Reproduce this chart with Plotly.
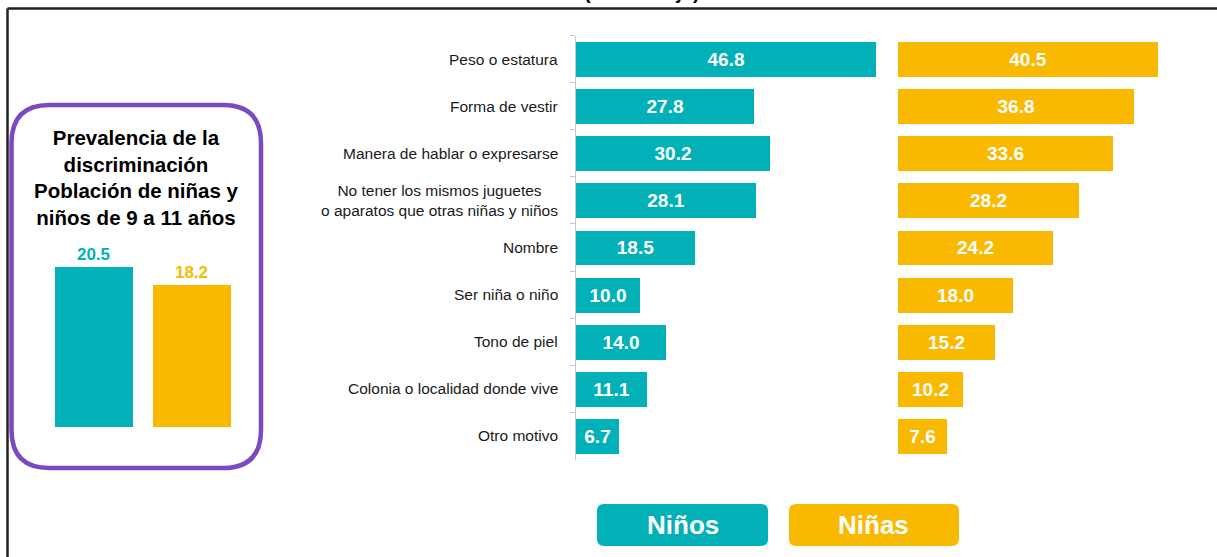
import plotly.graph_objects as go

# ---------------- data ----------------
categories = [
    "Peso o estatura",
    "Forma de vestir",
    "Manera de hablar o expresarse",
    "No tener los mismos juguetes<br>o aparatos que otras niñas y niños",
    "Nombre",
    "Ser niña o niño",
    "Tono de piel",
    "Colonia o localidad donde vive",
    "Otro motivo",
]
ninos = [46.8, 27.8, 30.2, 28.1, 18.5, 10.0, 14.0, 11.1, 6.7]
ninas = [40.5, 36.8, 33.6, 28.2, 24.2, 18.0, 15.2, 10.2, 7.6]

prev_groups = ["Niños", "Niñas"]
prev_values = [20.5, 18.2]

series_names = ["Niños", "Niñas"]
box_title = "Prevalencia de la<br>discriminación<br>Población de niñas y<br>niños de 9 a 11 años"
subtitle = "(Porcentaje)"

# ---------------- style ----------------
W, H = 1217, 557
TEAL = "#01B1B7"
YELLOW = "#F9B900"
PURPLE = "#7A4AC1"
ARIAL = "Liberation Sans, Arial, sans-serif"


def px_x(x):
    return x / W


def px_y(y):
    return 1 - y / H


def rounded_path(x0, y0, x1, y1, r):
    pts = [
        ("M", (x0 + r, y0)),
        ("L", (x1 - r, y0)),
        ("Q", (x1, y0), (x1, y0 + r)),
        ("L", (x1, y1 - r)),
        ("Q", (x1, y1), (x1 - r, y1)),
        ("L", (x0 + r, y1)),
        ("Q", (x0, y1), (x0, y1 - r)),
        ("L", (x0, y0 + r)),
        ("Q", (x0, y0), (x0 + r, y0)),
    ]
    out = []
    for item in pts:
        cmd = item[0]
        coords = " ".join(f"{px_x(p[0]):.5f},{px_y(p[1]):.5f}" for p in item[1:])
        out.append(f"{cmd} {coords}")
    return " ".join(out) + " Z"


fig = go.Figure()

# main bars - Niños
fig.add_trace(go.Bar(
    y=categories, x=ninos, orientation="h", name=series_names[0],
    marker=dict(color=TEAL, line=dict(width=0)),
    width=0.74,
    texttemplate="%{x:.1f}", textposition="inside", insidetextanchor="middle",
    textangle=0,
    textfont=dict(family=ARIAL, size=19, color="white", weight="bold"),
    xaxis="x", yaxis="y", hoverinfo="skip", showlegend=False,
))
# main bars - Niñas
fig.add_trace(go.Bar(
    y=categories, x=ninas, orientation="h", name=series_names[1],
    marker=dict(color=YELLOW, line=dict(width=0)),
    width=0.74,
    texttemplate="%{x:.1f}", textposition="inside", insidetextanchor="middle",
    textangle=0,
    textfont=dict(family=ARIAL, size=19, color="white", weight="bold"),
    xaxis="x2", yaxis="y", hoverinfo="skip", showlegend=False,
))
# prevalence bars
fig.add_trace(go.Bar(
    x=prev_groups, y=prev_values,
    marker=dict(color=[TEAL, YELLOW], line=dict(width=0)),
    width=0.786,
    texttemplate="%{y:.1f}", textposition="outside", textangle=0,
    textfont=dict(family=ARIAL, size=17, color=[TEAL, YELLOW], weight="bold"),
    cliponaxis=False,
    xaxis="x3", yaxis="y3", hoverinfo="skip", showlegend=False,
))

scale = 6.41  # px per unit
x1_left, x1_right = 576, 878
x2_left, x2_right = 898, 1212

fig.update_layout(
    width=W, height=H,
    margin=dict(l=0, r=0, t=0, b=0),
    paper_bgcolor="white", plot_bgcolor="white",
    bargap=0,
    xaxis=dict(domain=[px_x(x1_left), px_x(x1_right)],
               range=[0, (x1_right - x1_left) / scale],
               visible=False, anchor="y", fixedrange=True),
    xaxis2=dict(domain=[px_x(x2_left), px_x(x2_right)],
                range=[0, (x2_right - x2_left) / scale],
                visible=False, anchor="y", fixedrange=True),
    yaxis=dict(domain=[px_y(459.5), px_y(35.5)],
               type="category", categoryorder="array", categoryarray=categories,
               autorange="reversed",
               showline=True, linecolor="#C8C8C8", linewidth=1,
               ticks="outside", tickson="boundaries", ticklen=5,
               tickcolor="#C8C8C8", tickwidth=1,
               showticklabels=False, showgrid=False, zeroline=False,
               anchor="x", fixedrange=True),
    xaxis3=dict(domain=[px_x(44.5), px_x(240.5)], range=[-0.5, 1.5],
                visible=False, anchor="y3", fixedrange=True),
    yaxis3=dict(domain=[px_y(427), px_y(239.8)], range=[0, 24],
                visible=False, anchor="x3", fixedrange=True),
)

annotations = []
# category labels
for cat in categories:
    annotations.append(dict(
        x=px_x(560), xref="paper", y=cat, yref="y",
        xanchor="right", yanchor="middle", align="center",
        text=cat, showarrow=False,
        font=dict(family=ARIAL, size=15.5, color="#1a1a1a"),
    ))
# box title
annotations.append(dict(
    x=px_x(136), y=px_y(177), xref="paper", yref="paper",
    xanchor="center", yanchor="middle", align="center",
    text=box_title, showarrow=False,
    font=dict(family=ARIAL, size=20.5, color="black", weight="bold"),
))
# legend labels
for name, cx in zip(series_names, [682.5, 874]):
    annotations.append(dict(
        x=px_x(cx), y=px_y(525), xref="paper", yref="paper",
        xanchor="center", yanchor="middle",
        text=name, showarrow=False,
        font=dict(family=ARIAL, size=26, color="white", weight="bold"),
    ))
# subtitle (cut off at top, as in the reference)
annotations.append(dict(
    x=px_x(642), y=px_y(5), xref="paper", yref="paper",
    xanchor="center", yanchor="bottom",
    text=subtitle, showarrow=False,
    font=dict(family=ARIAL, size=20, color="black", weight="bold"),
))

shapes = [
    # outer frame (top and left edges)
    dict(type="line", xref="paper", yref="paper",
         x0=px_x(7.5), x1=px_x(1230), y0=px_y(8.5), y1=px_y(8.5),
         line=dict(color="#222222", width=2.5)),
    dict(type="line", xref="paper", yref="paper",
         x0=px_x(7.5), x1=px_x(7.5), y0=px_y(8.5), y1=px_y(570),
         line=dict(color="#222222", width=2.5)),
    # purple rounded box
    dict(type="path", xref="paper", yref="paper",
         path=rounded_path(11.5, 105, 261, 468, 38),
         line=dict(color=PURPLE, width=4.5), fillcolor="rgba(0,0,0,0)"),
    # legend boxes
    dict(type="path", xref="paper", yref="paper",
         path=rounded_path(597, 504, 768, 546, 7),
         line=dict(width=0), fillcolor=TEAL),
    dict(type="path", xref="paper", yref="paper",
         path=rounded_path(789, 504, 959, 546, 7),
         line=dict(width=0), fillcolor=YELLOW),
]

fig.update_layout(annotations=annotations, shapes=shapes, hovermode=False)

fig.write_html(
    "out.html",
    config={"displayModeBar": False},
    post_script="document.body.style.margin='0';document.body.style.overflow='hidden';",
)
